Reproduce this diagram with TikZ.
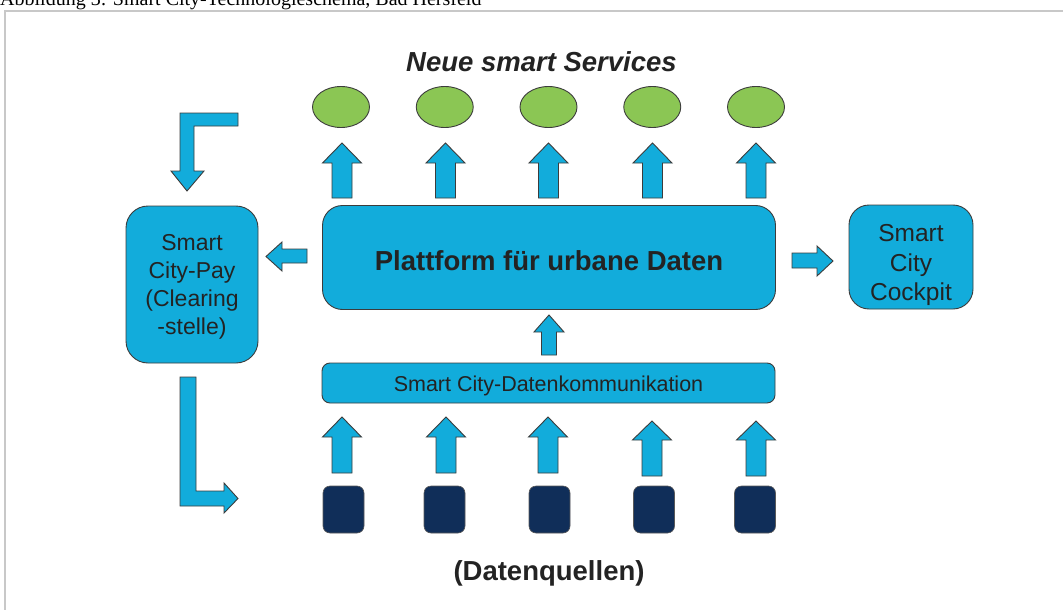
\documentclass[tikz,border=0pt]{standalone}
\usepackage{fontspec}
\setmainfont{Liberation Sans}
\newfontfamily\capfont{Liberation Serif}
\usetikzlibrary{shapes.geometric}

\definecolor{cyanfill}{RGB}{18,172,219}
\definecolor{greenfill}{RGB}{139,198,84}
\definecolor{navyfill}{RGB}{16,46,89}
\definecolor{edgegray}{RGB}{60,60,60}
\definecolor{textgray}{RGB}{35,35,35}
\definecolor{framegray}{RGB}{200,200,200}

\tikzset{
  outline/.style={draw=edgegray, line width=0.9pt},
  cyanbox/.style={outline, fill=cyanfill, inner sep=0pt},
  boxtext/.style={text=textgray, align=center, inner sep=0pt},
  service/.style={outline, fill=greenfill, ellipse, minimum width=57pt, minimum height=41pt, inner sep=0pt},
  source/.style={draw=gray!70!black, line width=0.6pt, fill=navyfill, rounded corners=7pt,
                 minimum width=41pt, minimum height=47pt, inner sep=0pt},
  blockarrow/.style={outline, fill=cyanfill, line join=miter},
}

% vertical block arrow: centre x, tip y, head base y, tail y, head half width, shaft half width
\newcommand\blockup[6]{%
  \draw[blockarrow] ({#1-#6},#4) -- ({#1-#6},#3) -- ({#1-#5},#3) -- (#1,#2)
    -- ({#1+#5},#3) -- ({#1+#6},#3) -- ({#1+#6},#4) -- cycle;}

\begin{document}
\begin{tikzpicture}[x=1pt,y=-1pt]
\clip (0,0) rectangle (1063,610);
\fill[white] (0,0) rectangle (1063,610);

% caption and frame
\node[anchor=base west, inner sep=0pt, font=\capfont\fontsize{20}{24}\selectfont, text=black]
  (caption) at (0,6) {Abbildung 3: Smart City-Technologieschema, Bad Hersfeld};
\draw[framegray, line width=1.5pt] (1066,11) -- (5,11) -- (5,614);

% title
\node[anchor=base, inner sep=0pt, text=textgray, font=\bfseries\itshape\fontsize{27.5}{33}\selectfont]
  (title) at (541.5,71) {Neue smart Services};

% smart services
\foreach \i/\x in {1/341,2/444.75,3/548.5,4/652.25,5/756}
  {\node[service] (s\i) at (\x,107) {};}

% arrows from the platform to the services
\foreach \x in {342,445.5,548.5,652.5,756}
  {\blockup{\x}{143}{163}{198}{19.5}{10}}

% central platform
\node[cyanbox, minimum width=453pt, minimum height=104pt, rounded corners=20pt] (plat) at (549,257.5) {};
\node[boxtext, font=\bfseries\fontsize{27.5}{33}\selectfont] (platlabel)
  at ([yshift=-3pt]plat.center) {Plattform für urbane Daten};

% clearing office
\node[cyanbox, minimum width=132pt, minimum height=157pt, rounded corners=22pt] (pay) at (192,284.5) {};
\node[boxtext, font=\fontsize{23}{28}\selectfont] (paylabel)
  at ([yshift=-2pt]pay.center) {Smart\\City-Pay\\(Clearing\\-stelle)};

% cockpit
\node[cyanbox, minimum width=124pt, minimum height=104pt, rounded corners=20pt] (cockpit) at (911,257) {};
\node[boxtext, font=\fontsize{24.5}{29.5}\selectfont] (cockpitlabel)
  at ([yshift=-8pt]cockpit.center) {Smart\\City\\Cockpit};

% data communication layer
\node[cyanbox, minimum width=453pt, minimum height=40pt, rounded corners=8pt] (comm) at (548.5,383) {};
\node[boxtext, font=\fontsize{21.5}{26}\selectfont] (commlabel)
  at ([yshift=-2.5pt]comm.center) {Smart City-Datenkommunikation};

% platform -> clearing office
\draw[blockarrow] (307,249) -- (282,249) -- (282,242) -- (266,256.5) -- (282,271)
  -- (282,263) -- (307,263) -- cycle;
% platform -> cockpit
\draw[blockarrow] (792,253) -- (817,253) -- (817,246) -- (833,261) -- (817,276)
  -- (817,268) -- (792,268) -- cycle;

% communication -> platform
\blockup{549}{315}{332}{355}{15}{7.5}

% arrows from the data sources to the communication layer
\foreach \x/\t/\b/\e in {342/417/437/473,446/417/437/473,548/417/437/473,
                         652/421/440/476,756/421/440/476}
  {\blockup{\x}{\t}{\b}{\e}{19.5}{10}}

% data sources
\foreach \i/\x in {1/343.5,2/444.5,3/549.5,4/654,5/755}
  {\node[source] (q\i) at (\x,509.5) {};}

\node[anchor=base, inner sep=0pt, text=textgray, font=\bfseries\fontsize{27.5}{33}\selectfont]
  (sources) at (549,580) {(Datenquellen)};

% return flow into the clearing office
\draw[blockarrow] (238,113) -- (180,113) -- (180,171) -- (171,171) -- (187,191)
  -- (204,171) -- (194,171) -- (194,126) -- (238,126) -- cycle;
% clearing office out to the data sources
\draw[blockarrow] (180,377) -- (196,377) -- (196,491) -- (224,491) -- (224,483)
  -- (238,498.5) -- (224,513) -- (224,506) -- (180,506) -- cycle;
\end{tikzpicture}
\end{document}
